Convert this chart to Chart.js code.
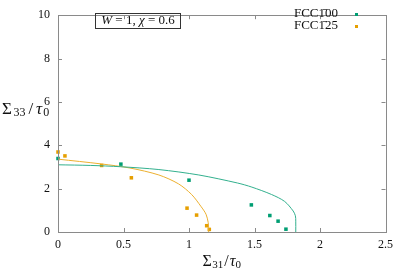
<!DOCTYPE html>
<html>
<head>
<meta charset="utf-8">
<script src="https://cdn.jsdelivr.net/npm/chart.js@4.4.1/dist/chart.umd.min.js"></script>
<style>
  html, body { margin: 0; padding: 0; background: #fff; }
  #wrap { width: 399px; height: 273px; }
</style>
</head>
<body>
<div id="wrap"><canvas id="chart"></canvas></div>
<script>
// Measured points (Sigma31/tau0, Sigma33/tau0)
const fcc100X = [0, 0.48, 1.0, 1.476, 1.617, 1.68, 1.74];
const fcc100Y = [3.39, 3.13, 2.39, 1.25, 0.76, 0.50, 0.13];
const fcc125X = [0, 0.053, 0.333, 0.56, 0.985, 1.058, 1.135, 1.155];
const fcc125Y = [3.69, 3.51, 3.07, 2.50, 1.10, 0.78, 0.29, 0.12];

// Model curves
const curve100X = [0, 0.25, 0.48, 0.77, 1.075, 1.37, 1.48, 1.63, 1.73, 1.795, 1.812, 1.815, 1.815];
const curve100Y = [3.10, 3.07, 3.01, 2.88, 2.63, 2.26, 2.07, 1.73, 1.41, 0.97, 0.75, 0.5, 0];
const curve125X = [0, 0.33, 0.55, 0.77, 0.92, 1.02, 1.09, 1.13, 1.146, 1.15, 1.15];
const curve125Y = [3.36, 3.14, 2.95, 2.63, 2.22, 1.73, 1.19, 0.82, 0.45, 0.2, 0];

const xTicks = [0, 0.5, 1, 1.5, 2, 2.5];
const yTicks = [0, 2, 4, 6, 8, 10];

const green = '#009e73';
const orange = '#e69f00';
const axisGray = '#8a8a8a';
const serif = "'Liberation Serif', 'DejaVu Serif', serif";

const pts = (xs, ys) => xs.map((x, i) => ({ x: x, y: ys[i] }));

// draw pieces of text one after another: [text, italic, sizeScale, dy, gapAfter]
function drawRich(ctx, parts, x, y, size, align) {
    let total = 0;
    const widths = parts.map(p => {
        ctx.font = (p[1] ? 'italic ' : '') + Math.round(size * (p[2] || 1)) + 'px ' + serif;
        return ctx.measureText(p[0]).width + (p[4] || 0);
    });
    widths.forEach(w => total += w);
    let cx = align === 'center' ? x - total / 2 : (align === 'right' ? x - total : x);
    parts.forEach((p, i) => {
        ctx.font = (p[1] ? 'italic ' : '') + Math.round(size * (p[2] || 1)) + 'px ' + serif;
        ctx.fillText(p[0], cx, y + (p[3] || 0));
        cx += widths[i];
    });
    return total;
}

const framePlugin = {
    id: 'frame',
    afterDraw(chart) {
        const ctx = chart.ctx;
        const a = chart.chartArea;
        const xs = chart.scales.x, ys = chart.scales.y;
        ctx.save();
        ctx.strokeStyle = axisGray;
        ctx.lineWidth = 1;
        ctx.strokeRect(Math.round(a.left) + 0.5, Math.round(a.top) + 0.5,
            Math.round(a.right - a.left), Math.round(a.bottom - a.top));
        ctx.beginPath();
        xTicks.forEach(v => {
            const px = Math.round(xs.getPixelForValue(v)) + 0.5;
            ctx.moveTo(px, a.bottom); ctx.lineTo(px, a.bottom - 4);
            ctx.moveTo(px, a.top); ctx.lineTo(px, a.top + 4);
        });
        yTicks.forEach(v => {
            const py = Math.round(ys.getPixelForValue(v)) + 0.5;
            ctx.moveTo(a.left, py); ctx.lineTo(a.left + 4, py);
            ctx.moveTo(a.right, py); ctx.lineTo(a.right - 4, py);
        });
        ctx.stroke();

        ctx.fillStyle = '#111';
        ctx.textBaseline = 'middle';
        // axis titles
        drawRich(ctx, [['Σ', false, 1, 0, 0.5], ['31', false, 0.7, 3, 1], ['/', false, 1, 0, 1], ['τ', true], ['0', false, 0.7, 3]],
            (a.left + a.right) / 2, 262, 16, 'center');
        drawRich(ctx, [['Σ', false, 1, 0, 1.5], ['33', false, 0.72, 3, 3], ['/', false, 1, 0, 3], ['τ', true, 1, 0, 1], ['0', false, 0.72, 3]],
            2, 110, 17, 'left');

        // annotation box
        ctx.lineWidth = 1;
        ctx.strokeStyle = '#333';
        ctx.strokeRect(95.5, 13.5, 85, 15);
        drawRich(ctx, [['W', true], [' = 1, ', false], ['χ', true], [' = 0.6', false]], 138, 21, 13, 'center');

        // legend: label on the left, marker on the right
        const items = [['FCC1\u030400', green, 14], ['FCC1\u030425', orange, 26]];
        items.forEach(it => {
            ctx.fillStyle = '#111';
            drawRich(ctx, [[it[0], false]], 338, it[2], 13, 'right');
            ctx.fillStyle = it[1];
            ctx.fillRect(355, it[2] - 1, 3, 3);
        });
        ctx.restore();
    }
};

new Chart(document.getElementById('chart'), {
    type: 'scatter',
    data: {
        datasets: [
            {
                label: 'FCC100 model',
                data: pts(curve100X, curve100Y),
                showLine: true,
                borderColor: '#33b08e',
                borderWidth: 1,
                pointRadius: 0,
                tension: 0.3
            },
            {
                label: 'FCC125 model',
                data: pts(curve125X, curve125Y),
                showLine: true,
                borderColor: '#ecb030',
                borderWidth: 1,
                pointRadius: 0,
                tension: 0.3
            },
            {
                label: 'FCC100',
                data: pts(fcc100X, fcc100Y),
                backgroundColor: green,
                borderColor: green,
                pointStyle: 'rect',
                pointRadius: 2.5,
                borderWidth: 0,
                clip: false
            },
            {
                label: 'FCC125',
                data: pts(fcc125X, fcc125Y),
                backgroundColor: orange,
                borderColor: orange,
                pointStyle: 'rect',
                pointRadius: 2.5,
                borderWidth: 0,
                clip: false
            }
        ]
    },
    options: {
        responsive: true,
        maintainAspectRatio: false,
        animation: false,
        layout: { padding: { top: 5, right: 8, left: 0, bottom: 0 } },
        plugins: {
            legend: { display: false },
            tooltip: { enabled: false }
        },
        scales: {
            x: {
                type: 'linear',
                min: 0,
                max: 2.5,
                afterFit: s => { s.height = 41; },
                afterBuildTicks: s => { s.ticks = xTicks.map(v => ({ value: v })); },
                grid: { display: false, drawTicks: false },
                border: { display: false },
                ticks: {
                    padding: 6,
                    color: '#111',
                    font: { family: serif, size: 12 },
                    callback: v => String(v)
                }
            },
            y: {
                type: 'linear',
                min: 0,
                max: 10,
                afterFit: s => { s.width = 58; },
                afterBuildTicks: s => { s.ticks = yTicks.map(v => ({ value: v })); },
                grid: { display: false, drawTicks: false },
                border: { display: false },
                ticks: {
                    padding: 8,
                    color: '#111',
                    font: { family: serif, size: 12 },
                    callback: v => String(v)
                }
            }
        }
    },
    plugins: [framePlugin]
});
</script>
</body>
</html>
